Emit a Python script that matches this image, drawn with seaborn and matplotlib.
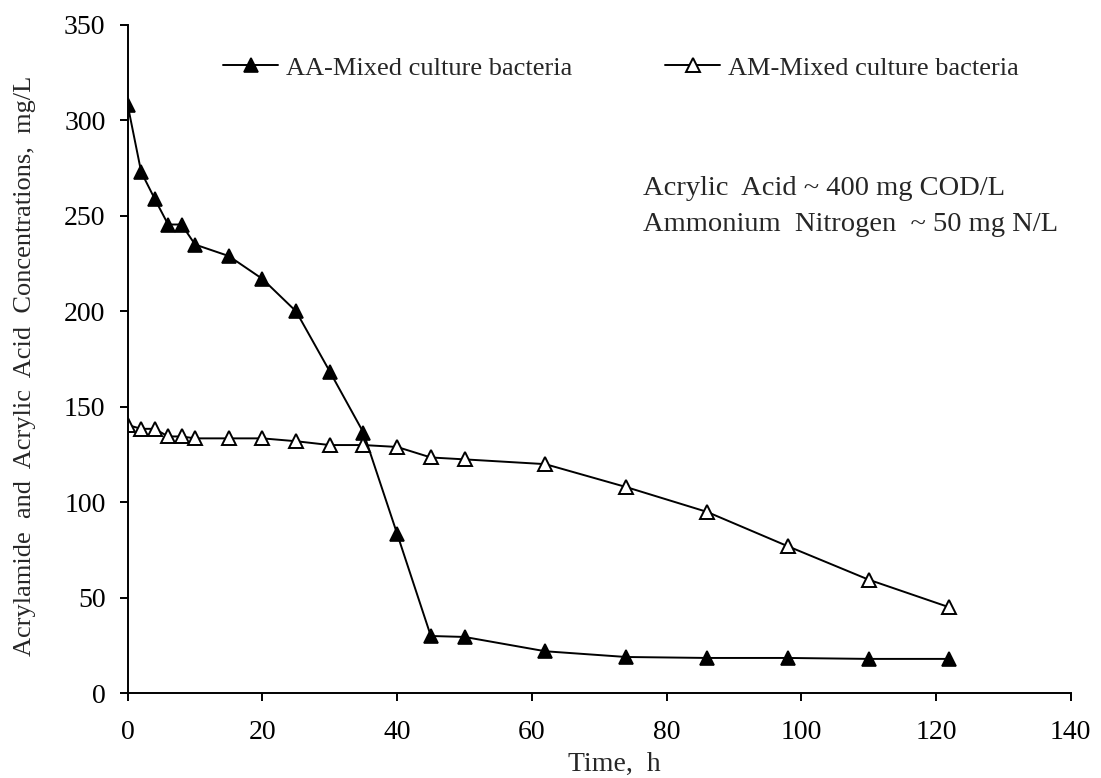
import matplotlib
matplotlib.use("Agg")
import matplotlib.pyplot as plt
import seaborn as sns

# Sampling times (h)
time_h = [0, 2, 4, 6, 8, 10, 15, 20, 25, 30, 35, 40, 45, 50, 62, 74, 86, 98, 110, 122]
# Acrylic acid concentration, mixed culture (mg/L)
aa_conc = [308, 273, 259, 245.5, 245.5, 235, 229, 217, 200, 168.5, 136.5, 83.5,
           30, 29.5, 22, 19, 18.5, 18.5, 18, 18]
# Acrylamide concentration, mixed culture (mg/L)
am_conc = [140.5, 138.5, 138.5, 134.5, 134.5, 133.5, 133.5, 133.5, 132, 130, 130, 129,
           123.5, 122.5, 120, 108, 95, 77, 59.5, 45]

series_labels = ["AA-Mixed culture bacteria", "AM-Mixed culture bacteria"]
x_ticks = [0, 20, 40, 60, 80, 100, 120, 140]
y_ticks = [0, 50, 100, 150, 200, 250, 300, 350]
notes = ["Acrylic  Acid ~ 400 mg COD/L", "Ammonium  Nitrogen  ~ 50 mg N/L"]

sns.set_style("ticks")
plt.rcParams["font.family"] = ["Liberation Serif", "DejaVu Serif"]
plt.rcParams["font.size"] = 20
plt.rcParams["axes.linewidth"] = 1.4
plt.rcParams["xtick.major.width"] = 1.4
plt.rcParams["ytick.major.width"] = 1.4
plt.rcParams["xtick.major.size"] = 6
plt.rcParams["ytick.major.size"] = 6
plt.rcParams["xtick.major.pad"] = 13
plt.rcParams["ytick.major.pad"] = 10
plt.rcParams["xtick.color"] = "black"
plt.rcParams["ytick.color"] = "black"
plt.rcParams["axes.edgecolor"] = "black"

fig = plt.figure(figsize=(11.01, 7.78), dpi=100)
ax = fig.add_axes([0.116, 0.1089, 0.8565, 0.859])

sns.lineplot(x=time_h, y=aa_conc, ax=ax, color="black", linewidth=1.4,
             marker="^", markersize=10, markerfacecolor="black",
             markeredgecolor="black", markeredgewidth=1.2,
             label=series_labels[0], errorbar=None)
sns.lineplot(x=time_h, y=am_conc, ax=ax, color="black", linewidth=1.4,
             marker="^", markersize=10.5, markerfacecolor="white",
             markeredgecolor="black", markeredgewidth=1.4,
             label=series_labels[1], errorbar=None)

ax.set_xlim(0, 140)
ax.set_ylim(0, 350)
ax.set_xticks(x_ticks)
ax.set_yticks(y_ticks)
sns.despine(ax=ax)

ax.set_xlabel("Time,  h", fontsize=20)
ax.xaxis.label.set_va("center")
ax.xaxis.set_label_coords(0.516, -0.107)
ax.set_ylabel("Acrylamide  and  Acrylic  Acid  Concentrations,  mg/L", fontsize=19)
ax.yaxis.label.set_va("center")
ax.yaxis.set_label_coords(-0.109, 0.49)

leg = ax.legend(loc="center left", bbox_to_anchor=(0.101, 0.9357), ncol=2,
                frameon=False, borderaxespad=0, borderpad=0,
                handlelength=2.1, handletextpad=0.3, columnspacing=3.5,
                fontsize=19)

ax.text(0.5465, 0.756, notes[0], transform=ax.transAxes, ha="left", va="center", fontsize=20.5)
ax.text(0.5465, 0.701, notes[1], transform=ax.transAxes, ha="left", va="center", fontsize=20.5)

fig.savefig("out.png", dpi=100)
